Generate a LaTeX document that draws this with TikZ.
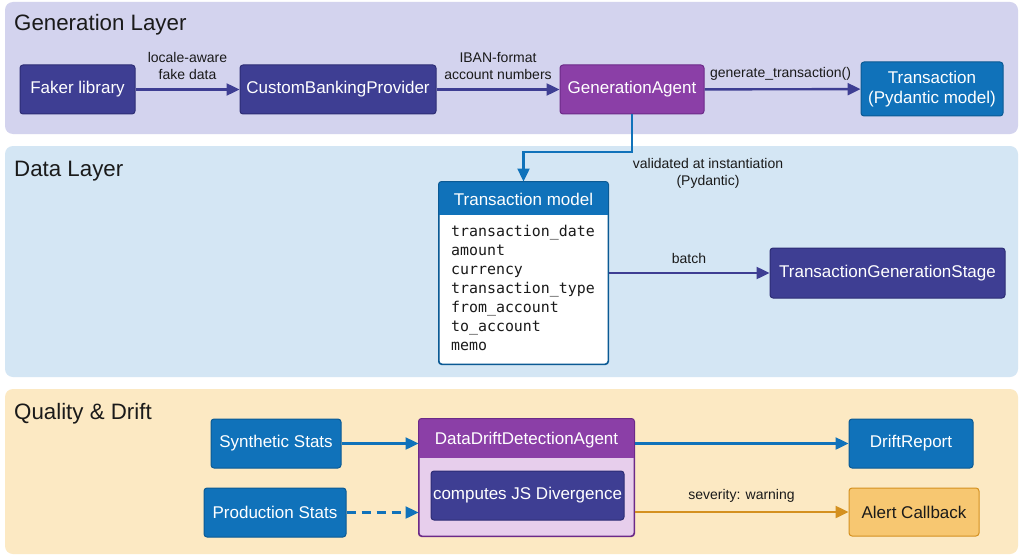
\documentclass[tikz,border=0pt]{standalone}
\usepackage{fontspec}
\setmainfont{Liberation Sans}
\newfontfamily\monof{DejaVu Sans Mono}
\usetikzlibrary{arrows.meta,calc}
\definecolor{pGen}{HTML}{D3D3EE}
\definecolor{pData}{HTML}{D4E6F4}
\definecolor{pQual}{HTML}{FCE9C3}
\definecolor{cInd}{HTML}{3E3E93}
\definecolor{cIndD}{HTML}{2D2D75}
\definecolor{cPur}{HTML}{8B3FA7}
\definecolor{cPurD}{HTML}{6C2A88}
\definecolor{cPurL}{HTML}{E7CEEC}
\definecolor{cBlue}{HTML}{1072BA}
\definecolor{cBlueD}{HTML}{0B5A94}
\definecolor{cAl}{HTML}{F7C771}
\definecolor{cOr}{HTML}{D4901F}
\definecolor{cTxt}{HTML}{1A1A1A}
\begin{document}
\begin{tikzpicture}[x=1pt,y=-1pt,
  panel/.style={rounded corners=8pt},
  ptitle/.style={anchor=base west,text=cTxt,font=\fontsize{22.3}{26}\selectfont,inner sep=0},
  box/.style={rectangle,rounded corners=3pt,line width=1pt,text=white,align=center,inner sep=0,
    font=\fontsize{17}{20.5}\selectfont},
  indbox/.style={box,fill=cInd,draw=cIndD},
  purbox/.style={box,fill=cPur,draw=cPurD},
  bluebox/.style={box,fill=cBlue,draw=cBlueD},
  alertbox/.style={box,fill=cAl,draw=cOr,text=cTxt},
  elabel/.style={text=cTxt,align=center,font=\fontsize{14}{17}\selectfont,inner sep=0},
  arr/.style={line width=2.4pt,-{Triangle[length=13pt,width=12pt]}},
  indarr/.style={arr,draw=cInd},
  bluearr/.style={arr,draw=cBlue},
  orarr/.style={arr,draw=cOr}]
\useasboundingbox (0,0) rectangle (1024,559);
\fill[white] (0,0) rectangle (1024,559);
% panels
\fill[panel,pGen] (5,2) rectangle (1018,134);
\fill[panel,pData] (5,146) rectangle (1018,377);
\fill[panel,pQual] (5,389) rectangle (1018,554);
\node[ptitle] (tGen) at (14,31) {Generation Layer};
\node[ptitle] (tData) at (14,176) {Data Layer};
\node[ptitle] (tQual) at (14,419) {Quality \& Drift};
% generation layer
\node[indbox,minimum width=115pt,minimum height=49pt] (faker) at (77.5,89.5) {Faker library};
\node[indbox,minimum width=196pt,minimum height=49pt] (cbp) at (338,89.5) {CustomBankingProvider};
\node[purbox,minimum width=144pt,minimum height=49pt] (gen) at (632,89.5) {GenerationAgent};
\node[bluebox,minimum width=142pt,minimum height=54pt] (tx) at (932,89) {Transaction\\(Pydantic model)};
\draw[indarr] (faker) -- node[elabel,above=9pt] (l1) {locale-aware\\fake data} (cbp);
\draw[indarr] (cbp) -- node[elabel,above=9pt] (l2) {IBAN-format\\account numbers} (gen);
\draw[indarr] (gen) -- node[elabel,above=8pt,xshift=-2pt] (l3) {generate\_transaction()} (tx);
% data layer
\node[rectangle,rounded corners=3pt,fill=white,draw=cBlueD,line width=1pt,
  minimum width=169pt,minimum height=182pt,inner sep=0] (tm) at (523.5,273) {};
\begin{scope}
\clip[rounded corners=3pt] (tm.north west) rectangle (tm.south east);
\fill[cBlue] (tm.north west) rectangle ($(tm.north east)+(0,33)$);
\end{scope}
\draw[cBlueD,line width=1pt,rounded corners=3pt] (tm.north west) rectangle (tm.south east);
\node[text=white,font=\fontsize{17}{20}\selectfont,inner sep=0] (tmh) at (523.5,199) {Transaction model};
\node[anchor=north west,align=left,text=cTxt,inner sep=0,font=\monof\fontsize{14.9}{19}\selectfont] (fields) at (451,225)
  {transaction\_date\\amount\\currency\\transaction\_type\\from\_account\\to\_account\\memo};
\coordinate (bend) at (632,152);
\draw[line width=2.4pt,draw=cBlue,-{Triangle[length=13pt,width=12pt]}] (gen.south) -- (bend) -| (tm.north);
\node[elabel] (lval) at (708,173) {validated at instantiation\\(Pydantic)};
\node[indbox,minimum width=235pt,minimum height=50pt] (tgs) at (887.5,273) {TransactionGenerationStage};
\draw[indarr] (tm.east |- tgs) -- node[elabel,above=8pt] (lb) {batch} (tgs.west);
% quality & drift
\node[bluebox,minimum width=130pt,minimum height=49pt] (syn) at (276,443.5) {Synthetic Stats};
\node[bluebox,minimum width=142pt,minimum height=49pt] (prod) at (275,512.5) {Production Stats};
\node[rectangle,rounded corners=3pt,fill=cPurL,draw=cPurD,line width=1pt,
  minimum width=215pt,minimum height=117pt,inner sep=0] (agent) at (526.5,477.5) {};
\begin{scope}
\clip[rounded corners=3pt] (agent.north west) rectangle (agent.south east);
\fill[cPur] (agent.north west) rectangle ($(agent.north east)+(0,39)$);
\end{scope}
\draw[cPurD,line width=1pt,rounded corners=3pt] (agent.north west) rectangle (agent.south east);
\node[text=white,font=\fontsize{17}{20}\selectfont,inner sep=0] (agh) at (526.5,440) {DataDriftDetectionAgent};
\node[indbox,minimum width=193pt,minimum height=49pt] (js) at (527.5,495.5) {computes JS Divergence};
\node[bluebox,minimum width=124pt,minimum height=49pt] (drift) at (911,443.5) {DriftReport};
\node[alertbox,minimum width=130pt,minimum height=48pt] (alert) at (914,512) {Alert Callback};
\draw[bluearr] (syn.east) -- (syn.east -| agent.west);
\draw[bluearr,dash pattern=on 9pt off 6pt] (prod.east) -- (prod.east -| agent.west);
\draw[bluearr] (agent.east |- drift) -- (drift.west);
\draw[orarr] (agent.east |- alert) -- node[elabel,above=8pt] (lsev) {severity: warning} (alert.west);
\end{tikzpicture}
\end{document}
